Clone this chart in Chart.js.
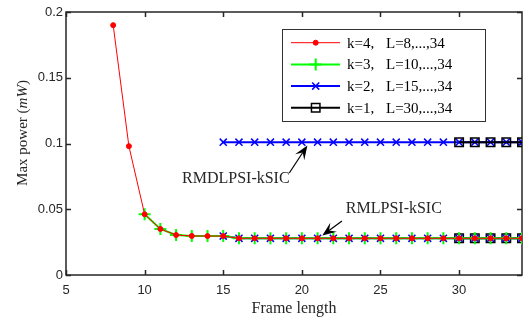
<!DOCTYPE html>
<html>
<head>
<meta charset="utf-8">
<script src="https://cdn.jsdelivr.net/npm/chart.js@4"></script>
<style>
  html, body { margin: 0; padding: 0; background: #fff; }
  canvas { display: block; }
</style>
</head>
<body>
<canvas id="power-chart" width="530" height="324"></canvas>
<script>
// ---- data ----
const framesK4 = [8, 9, 10, 11, 12, 13, 14, 15, 16, 17, 18, 19, 20, 21, 22, 23, 24, 25, 26, 27, 28, 29, 30, 31, 32, 33, 34];
const powerK4 = [0.190, 0.098, 0.0462, 0.035, 0.0304, 0.0297, 0.0296, 0.0296, 0.0279, 0.0279, 0.0279, 0.0279, 0.0279, 0.0279, 0.0279, 0.0279, 0.0279, 0.0279, 0.0279, 0.0279, 0.0279, 0.0279, 0.0279, 0.0279, 0.0279, 0.0279, 0.0279];

const framesK3 = [10, 11, 12, 13, 14, 15, 16, 17, 18, 19, 20, 21, 22, 23, 24, 25, 26, 27, 28, 29, 30, 31, 32, 33, 34];
const powerK3 = [0.0462, 0.035, 0.0304, 0.0297, 0.0296, 0.0296, 0.0279, 0.0279, 0.0279, 0.0279, 0.0279, 0.0279, 0.0279, 0.0279, 0.0279, 0.0279, 0.0279, 0.0279, 0.0279, 0.0279, 0.0279, 0.0279, 0.0279, 0.0279, 0.0279];

const framesK2 = [15, 16, 17, 18, 19, 20, 21, 22, 23, 24, 25, 26, 27, 28, 29, 30, 31, 32, 33, 34];
const powerK2 = [0.0296, 0.0279, 0.0279, 0.0279, 0.0279, 0.0279, 0.0279, 0.0279, 0.0279, 0.0279, 0.0279, 0.0279, 0.0279, 0.0279, 0.0279, 0.0279, 0.0279, 0.0279, 0.0279, 0.0279];
const powerK2Mdl = [0.101, 0.101, 0.101, 0.101, 0.101, 0.101, 0.101, 0.101, 0.101, 0.101, 0.101, 0.101, 0.101, 0.101, 0.101, 0.101, 0.101, 0.101, 0.101, 0.101];

const framesK1 = [30, 31, 32, 33, 34];
const powerK1 = [0.0279, 0.0279, 0.0279, 0.0279, 0.0279];
const powerK1Mdl = [0.101, 0.101, 0.101, 0.101, 0.101];

const legendKs = ['k=4,', 'k=3,', 'k=2,', 'k=1,'];
const legendRanges = ['L=8,...,34', 'L=10,...,34', 'L=15,...,34', 'L=30,...,34'];

const xTicks = [5, 10, 15, 20, 25, 30];
const yTicks = [0, 0.05, 0.1, 0.15, 0.2];

const toPoints = (xs, ys) => xs.map((x, i) => ({ x: x, y: ys[i] }));

const AXIS_COLOR = '#262626';
const SERIF = '"Liberation Serif", "DejaVu Serif", serif';

// styles per k
const styleK4 = { borderColor: '#ff0000', backgroundColor: '#ff0000', borderWidth: 1, pointStyle: 'circle', pointRadius: 2.5, pointBorderWidth: 1 };
const styleK3 = { borderColor: '#00ff00', backgroundColor: '#00ff00', borderWidth: 2, pointStyle: 'cross', pointRadius: 6, pointBorderWidth: 2 };
const styleK2 = { borderColor: '#0000ff', backgroundColor: '#0000ff', borderWidth: 2, pointStyle: 'crossRot', pointRadius: 5, pointBorderWidth: 1.5 };
const styleK1 = { borderColor: '#000000', backgroundColor: 'rgba(0,0,0,0)', borderWidth: 2, pointStyle: 'rect', pointRadius: 6, pointBorderWidth: 1.5 };

const datasets = [
    { label: 'k=4', data: toPoints(framesK4, powerK4), ...styleK4, order: 1 },
    { label: 'k=3', data: toPoints(framesK3, powerK3), ...styleK3, order: 2 },
    { label: 'k=2', data: toPoints(framesK2, powerK2), ...styleK2, order: 3 },
    { label: 'k=1', data: toPoints(framesK1, powerK1), ...styleK1, order: 4 },
    { label: 'k=1 MDL', data: toPoints(framesK1, powerK1Mdl), ...styleK1, order: 5 },
    { label: 'k=2 MDL', data: toPoints(framesK2, powerK2Mdl), ...styleK2, order: 6 },
];
datasets.forEach(d => {
    d.fill = false;
    d.tension = 0;
    d.pointBackgroundColor = d.backgroundColor;
    d.pointHoverRadius = d.pointRadius;
});

// box, inward ticks, axis titles
const framePlugin = {
    id: 'frame',
    beforeDatasetsDraw(chart) {
        const { ctx, chartArea: a, scales } = chart;
        ctx.save();
        ctx.strokeStyle = AXIS_COLOR;
        ctx.lineWidth = 1.5;
        ctx.strokeRect(a.left, a.top, a.right - a.left, a.bottom - a.top);
        ctx.beginPath();
        xTicks.forEach(v => {
            const px = Math.round(scales.x.getPixelForValue(v)) + 0.5;
            ctx.moveTo(px, a.bottom); ctx.lineTo(px, a.bottom - 5);
            ctx.moveTo(px, a.top); ctx.lineTo(px, a.top + 5);
        });
        yTicks.forEach(v => {
            const py = Math.round(scales.y.getPixelForValue(v)) + 0.5;
            ctx.moveTo(a.left, py); ctx.lineTo(a.left + 5, py);
            ctx.moveTo(a.right, py); ctx.lineTo(a.right - 5, py);
        });
        ctx.stroke();
        ctx.restore();
    },
    afterDraw(chart) {
        const { ctx, chartArea: a } = chart;
        ctx.save();
        ctx.fillStyle = AXIS_COLOR;
        // x title
        ctx.font = '16px ' + SERIF;
        ctx.textAlign = 'center';
        ctx.textBaseline = 'middle';
        ctx.fillText('Frame length', (a.left + a.right) / 2, 309);
        // y title with italic unit
        ctx.translate(23, 133);
        ctx.rotate(-Math.PI / 2);
        const parts = [['Max power ', '15px ' + SERIF], ['(', '15px ' + SERIF], ['mW', 'italic 15px ' + SERIF], [')', '15px ' + SERIF]];
        let total = 0;
        parts.forEach(p => { ctx.font = p[1]; total += ctx.measureText(p[0]).width; });
        let x = -total / 2;
        ctx.textAlign = 'left';
        parts.forEach(p => { ctx.font = p[1]; ctx.fillText(p[0], x, 0); x += ctx.measureText(p[0]).width; });
        ctx.restore();
    }
};

function drawArrow(ctx, x1, y1, x2, y2) {
    const ang = Math.atan2(y2 - y1, x2 - x1);
    const len = 14, wid = 5.5;
    const cos = Math.cos(ang), sin = Math.sin(ang);
    ctx.beginPath();
    ctx.moveTo(x1, y1);
    ctx.lineTo(x2 - cos * len * 0.6, y2 - sin * len * 0.6);
    ctx.stroke();
    ctx.beginPath();
    ctx.moveTo(x2, y2);
    ctx.lineTo(x2 - cos * len + sin * wid, y2 - sin * len - cos * wid);
    ctx.lineTo(x2 - cos * len * 0.6, y2 - sin * len * 0.6);
    ctx.lineTo(x2 - cos * len - sin * wid, y2 - sin * len + cos * wid);
    ctx.closePath();
    ctx.fill();
}

// text arrows, placed in data coordinates
const notePlugin = {
    id: 'notes',
    afterDatasetsDraw(chart) {
        const { ctx, scales: { x, y } } = chart;
        ctx.save();
        ctx.strokeStyle = '#000';
        ctx.lineWidth = 1.2;
        ctx.font = '16px ' + SERIF;
        ctx.textAlign = 'center';
        ctx.textBaseline = 'middle';
        ctx.fillStyle = '#262626';
        ctx.fillText('RMDLPSI-kSIC', x.getPixelForValue(15.8), y.getPixelForValue(0.073));
        ctx.fillText('RMLPSI-kSIC', x.getPixelForValue(25.85), y.getPixelForValue(0.050));
        ctx.fillStyle = '#000';
        drawArrow(ctx, x.getPixelForValue(19.2), y.getPixelForValue(0.0776), x.getPixelForValue(20.35), y.getPixelForValue(0.0985));
        drawArrow(ctx, x.getPixelForValue(22.55), y.getPixelForValue(0.041), x.getPixelForValue(21.3), y.getPixelForValue(0.030));
        ctx.restore();
    }
};

// MATLAB style boxed legend
const legendPlugin = {
    id: 'boxLegend',
    afterDatasetsDraw(chart) {
        const { ctx } = chart;
        const bx = 282, by = 29, bw = 203, bh = 92;
        ctx.save();
        ctx.fillStyle = '#fff';
        ctx.fillRect(bx, by, bw, bh);
        ctx.strokeStyle = '#333';
        ctx.lineWidth = 1;
        ctx.strokeRect(bx + 0.5, by + 0.5, bw, bh);
        for (let i = 0; i < 4; i++) {
            const ds = chart.data.datasets[i];
            const ry = 42.7 + i * 21.7;
            ctx.strokeStyle = ds.borderColor;
            ctx.lineWidth = ds.borderWidth;
            ctx.beginPath();
            ctx.moveTo(291, ry); ctx.lineTo(340, ry);
            ctx.stroke();
            ctx.fillStyle = ds.backgroundColor;
            ctx.strokeStyle = ds.borderColor;
            ctx.lineWidth = ds.pointBorderWidth;
            Chart.helpers.drawPoint(ctx, {
                pointStyle: ds.pointStyle, radius: ds.pointRadius, rotation: 0,
                borderWidth: ds.pointBorderWidth
            }, 315.7, ry);
            ctx.fillStyle = '#000';
            ctx.font = '15px ' + SERIF;
            ctx.textAlign = 'left';
            ctx.textBaseline = 'middle';
            ctx.fillText(legendKs[i], 347, ry + 1);
            ctx.fillText(legendRanges[i], 386, ry + 1);
        }
        ctx.restore();
    }
};

const tickFont = { family: '"Liberation Sans", Arial, sans-serif', size: 13 };

new Chart(document.getElementById('power-chart'), {
    type: 'line',
    data: { datasets: datasets },
    options: {
        responsive: false,
        animation: false,
        layout: { padding: { top: 12, right: 8, left: 0, bottom: 0 } },
        plugins: { legend: { display: false }, tooltip: { enabled: false } },
        scales: {
            x: {
                type: 'linear', min: 5, max: 34,
                afterBuildTicks: s => { s.ticks = xTicks.map(v => ({ value: v })); },
                afterFit: s => { s.height = 49; },
                grid: { drawOnChartArea: false, drawTicks: false },
                border: { display: false },
                ticks: { font: tickFont, color: AXIS_COLOR, padding: 8, maxRotation: 0, callback: v => String(v) }
            },
            y: {
                type: 'linear', min: 0, max: 0.2,
                afterBuildTicks: s => { s.ticks = yTicks.map(v => ({ value: v })); },
                afterFit: s => { s.width = 66; },
                grid: { drawOnChartArea: false, drawTicks: false },
                border: { display: false },
                ticks: { font: tickFont, color: AXIS_COLOR, padding: 3, callback: v => String(+v.toFixed(2)) }
            }
        }
    },
    plugins: [framePlugin, notePlugin, legendPlugin]
});
</script>
</body>
</html>
